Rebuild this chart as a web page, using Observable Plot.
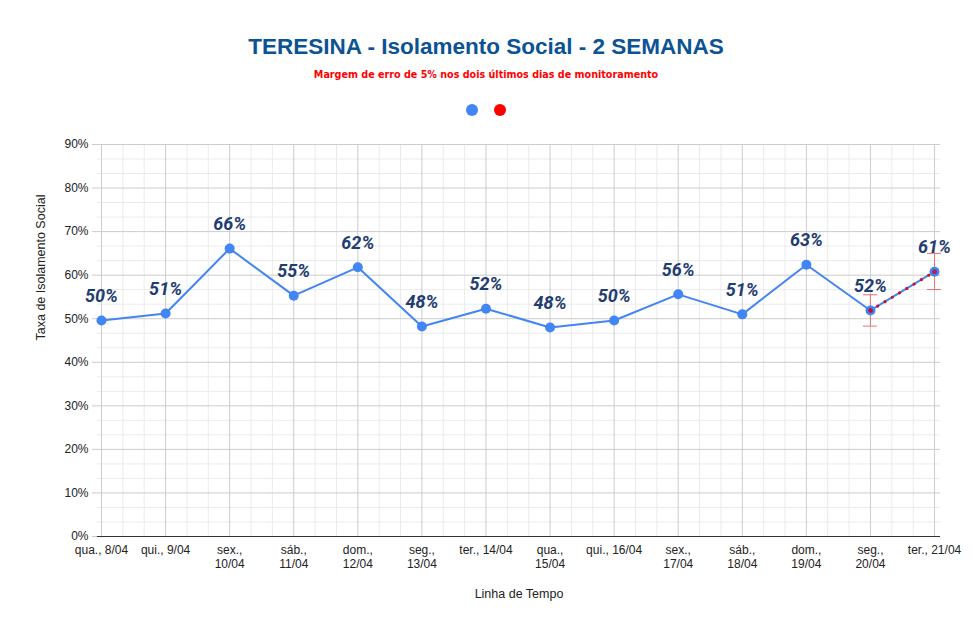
<!DOCTYPE html>
<html>
<head>
<meta charset="utf-8">
<script src="https://cdn.jsdelivr.net/npm/d3@7"></script>
<script src="https://cdn.jsdelivr.net/npm/@observablehq/plot@0.6"></script>
<style>
  html, body { margin: 0; padding: 0; background: #fff; }
  #wrap { width: 972px; }
  #head { position: relative; width: 972px; height: 125px; }
  #title { position: absolute; left: 0; width: 972px; top: 34px; text-align: center; line-height: 26px;
    font: bold 22.5px "Liberation Sans", Arial, sans-serif; color: #0b5394; }
  #sub { position: absolute; left: 0; width: 972px; top: 69px; text-align: center; line-height: 12px;
    font: bold 9.6px "DejaVu Sans", Verdana, sans-serif; color: #ff0000; }
  .leg { position: absolute; top: 104px; width: 12px; height: 12px; border-radius: 50%; }
  svg [aria-label="y-axis tick"] { stroke: #cccccc; }
</style>
</head>
<body>
<div id="wrap">
  <div id="head">
    <div id="title">TERESINA - Isolamento Social - 2 SEMANAS</div>
    <div id="sub">Margem de erro de 5% nos dois últimos dias de monitoramento</div>
    <div class="leg" style="left:466px;background:#4285F4"></div>
    <div class="leg" style="left:494px;background:#ff0000"></div>
  </div>
  <div id="chart"></div>
</div>
<script>
const dias = ["qua., 8/04", "qui., 9/04", "sex.,\n10/04", "sáb.,\n11/04", "dom.,\n12/04", "seg.,\n13/04",
  "ter., 14/04", "qua.,\n15/04", "qui., 16/04", "sex.,\n17/04", "sáb.,\n18/04", "dom.,\n19/04",
  "seg.,\n20/04", "ter., 21/04"];
const isolamento = [49.6, 51.2, 66.1, 55.3, 61.8, 48.2, 52.3, 48.0, 49.6, 55.6, 51.0, 62.4, 51.9, 60.8];
const rotulos = ["50%", "51%", "66%", "55%", "62%", "48%", "52%", "48%", "50%", "56%", "51%", "63%", "52%", "61%"];
const erroIndices = [12, 13];
const erroMin = [48.3, 56.7];
const erroMax = [55.5, 65.0];
const yTicks = [0, 10, 20, 30, 40, 50, 60, 70, 80, 90];

const idx = d3.range(dias.length);
const minorY = d3.range(0, 28).filter(k => k % 3 !== 0).map(k => k * 10 / 3);
const minorX = d3.range(0, 3 * (dias.length - 1)).filter(k => k % 3 !== 0).map(k => k / 3);
const ej = d3.range(erroIndices.length);

const chart = Plot.plot({
  width: 972,
  height: 509,
  marginLeft: 97,
  marginRight: 32,
  marginTop: 19,
  marginBottom: 98,
  style: { fontFamily: "'Liberation Sans', Arial, sans-serif", fontSize: "12px", color: "#222" },
  x: { type: "linear", domain: [-0.0624, 13.093], axis: null },
  y: { domain: [0, 90], axis: null },
  marks: [
    Plot.ruleY(minorY, { stroke: "#ebebeb" }),
    Plot.ruleX(minorX, { stroke: "#ebebeb" }),
    Plot.ruleY(yTicks.slice(1), { stroke: "#cccccc" }),
    Plot.ruleX(idx, { stroke: "#cccccc" }),
    Plot.ruleY([0], { stroke: "#333333" }),
    Plot.axisY(yTicks, { tickSize: 5, tickPadding: 4, tickFormat: d => d + "%", fontSize: 12 }),
    Plot.axisX(idx, { tickSize: 0, tickPadding: 7, tickFormat: i => dias[i], fontSize: 12, lineHeight: 1.18, lineAnchor: "top" }),
    Plot.text(["Taxa de Isolamento Social"], { frameAnchor: "left", rotate: -90, dx: -57, fontSize: 12.5, fill: "#222" }),
    Plot.text(["Linha de Tempo"], { frameAnchor: "bottom", dy: 61, fontSize: 12.5, fill: "#222" }),
    Plot.ruleX(ej, { x: j => erroIndices[j], y1: j => erroMin[j], y2: j => erroMax[j], stroke: "#e57373", strokeWidth: 1 }),
    Plot.ruleY(ej, { y: j => erroMin[j], x1: j => erroIndices[j], x2: j => erroIndices[j], insetLeft: -7, insetRight: -7, stroke: "#e57373", strokeWidth: 1 }),
    Plot.ruleY(ej, { y: j => erroMax[j], x1: j => erroIndices[j], x2: j => erroIndices[j], insetLeft: -7, insetRight: -7, stroke: "#e57373", strokeWidth: 1 }),
    Plot.line(idx, { x: i => i, y: i => isolamento[i], stroke: "#4285F4", strokeWidth: 2 }),
    Plot.dot(idx, { x: i => i, y: i => isolamento[i], r: 5, fill: "#4285F4" }),
    Plot.line(erroIndices, { x: i => i, y: i => isolamento[i], stroke: "#d0102a", strokeWidth: 3.2, strokeDasharray: "0 8.5", strokeLinecap: "round" }),
    Plot.dot(erroIndices, { x: i => i, y: i => isolamento[i], r: 2.5, fill: "#c0102a", fillOpacity: 0.8 }),
    Plot.text(idx, { x: i => i, y: i => isolamento[i], text: i => rotulos[i], dy: -24, fontSize: 18,
      fontWeight: "bold", fontStyle: "italic", fill: "#1f3d73", fontFamily: "Roboto, sans-serif" })
  ]
});
document.getElementById("chart").appendChild(chart);
</script>
</body>
</html>
